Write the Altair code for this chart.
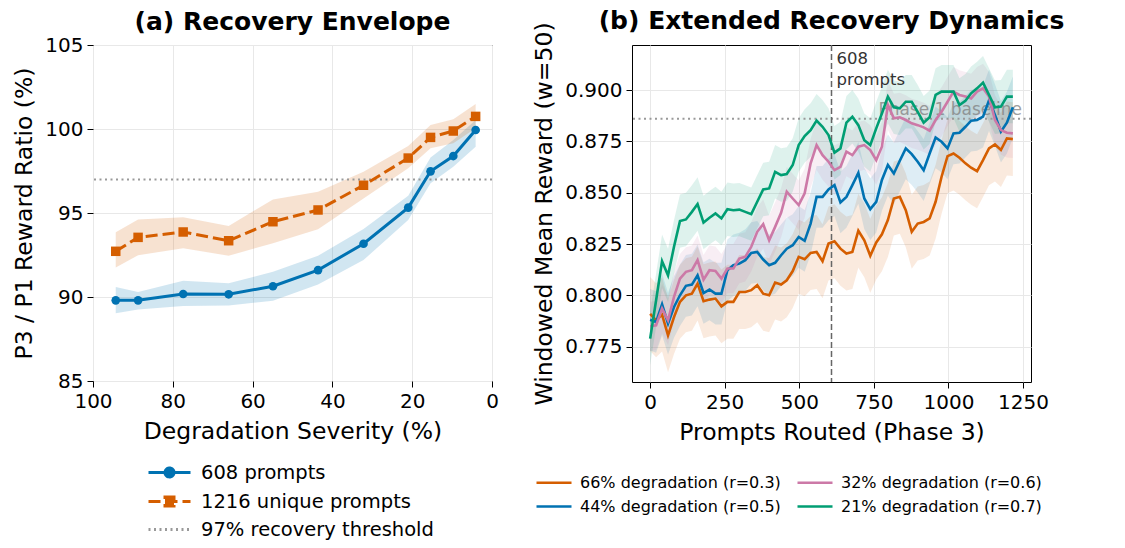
import altair as alt
import pandas as pd

FONT = "DejaVu Sans"
BLUE = "#0072B2"
ORANGE = "#D55E00"
PINK = "#CC79A7"
GREEN = "#009E73"
GRAY = "#999999"

# ---------------- Panel (a) data ----------------
severity = [94.3, 88.7, 77.4, 66.0, 54.9, 43.6, 32.2, 21.0, 15.4, 9.7, 4.1]
ratio_608 = [89.80, 89.80, 90.18, 90.16, 90.64, 91.60, 93.17, 95.32, 97.48, 98.39, 99.94]
ratio_608_lo = [89.03, 89.25, 89.46, 89.50, 89.78, 90.75, 92.20, 94.58, 96.77, 97.76, 98.95]
ratio_608_hi = [90.60, 90.30, 90.97, 90.82, 91.50, 92.46, 94.05, 96.03, 98.30, 99.35, 100.54]
ratio_1216 = [92.72, 93.55, 93.87, 93.35, 94.48, 95.18, 96.65, 98.27, 99.50, 99.88, 100.75]
ratio_1216_lo = [91.75, 92.48, 92.90, 92.46, 93.20, 94.03, 95.87, 97.66, 98.85, 99.15, 100.04]
ratio_1216_hi = [93.85, 94.62, 94.74, 94.23, 95.81, 96.27, 97.46, 98.99, 100.24, 100.58, 101.49]
threshold = [97.0]
legend_a = ["608 prompts", "1216 unique prompts", "97% recovery threshold"]

# ---------------- Panel (b) data ----------------
prompts = [0, 20, 40, 60, 80, 100, 120, 140, 159, 179, 199, 219, 239, 259, 279, 299,
           319, 339, 359, 379, 399, 419, 439, 458, 478, 498, 518, 538, 558, 578, 598,
           618, 638, 658, 678, 698, 718, 738, 758, 777, 797, 817, 837, 857, 877, 897,
           917, 937, 957, 977, 997, 1017, 1037, 1057, 1076, 1096, 1116, 1136, 1156,
           1176, 1196, 1216]
reward_66 = [0.7910, 0.7879, 0.7907, 0.7806, 0.7895, 0.7969, 0.8001, 0.8009, 0.8058, 0.7972,
             0.7980, 0.7985, 0.7947, 0.7969, 0.7969, 0.8017, 0.8017, 0.8026, 0.8050, 0.8009,
             0.8001, 0.8063, 0.8053, 0.8074, 0.8119, 0.8188, 0.8176, 0.8207, 0.8212, 0.8167,
             0.8253, 0.8264, 0.8228, 0.8204, 0.8212, 0.8315, 0.8269, 0.8193, 0.8258, 0.8298,
             0.8367, 0.8472, 0.8480, 0.8415, 0.8310, 0.8350, 0.8358, 0.8375, 0.8456, 0.8578,
             0.8678, 0.8691, 0.8670, 0.8643, 0.8622, 0.8605, 0.8659, 0.8716, 0.8735, 0.8708,
             0.8764, 0.8761]
reward_44 = [0.7882, 0.7871, 0.7957, 0.7863, 0.7944, 0.8001, 0.8047, 0.8053, 0.8098, 0.8012,
             0.8029, 0.8009, 0.8009, 0.8123, 0.8147, 0.8155, 0.8172, 0.8207, 0.8212, 0.8175,
             0.8147, 0.8159, 0.8196, 0.8228, 0.8245, 0.8285, 0.8266, 0.8350, 0.8480, 0.8480,
             0.8516, 0.8537, 0.8453, 0.8480, 0.8537, 0.8597, 0.8472, 0.8420, 0.8456, 0.8562,
             0.8635, 0.8594, 0.8656, 0.8716, 0.8688, 0.8651, 0.8610, 0.8691, 0.8769, 0.8748,
             0.8716, 0.8789, 0.8792, 0.8821, 0.8851, 0.8854, 0.8870, 0.8950, 0.8878, 0.8797,
             0.8841, 0.8916]
reward_32 = [0.7850, 0.7855, 0.7936, 0.7879, 0.7993, 0.8082, 0.8115, 0.8123, 0.8172, 0.8077,
             0.8123, 0.8119, 0.8082, 0.8131, 0.8131, 0.8180, 0.8188, 0.8237, 0.8310, 0.8347,
             0.8269, 0.8334, 0.8402, 0.8505, 0.8472, 0.8440, 0.8497, 0.8643, 0.8732, 0.8683,
             0.8651, 0.8610, 0.8626, 0.8700, 0.8683, 0.8724, 0.8732, 0.8708, 0.8659, 0.8724,
             0.8927, 0.8862, 0.8867, 0.8854, 0.8838, 0.8829, 0.8818, 0.8802, 0.8854, 0.8894,
             0.8943, 0.8992, 0.8976, 0.8968, 0.8959, 0.8992, 0.9008, 0.8968, 0.8854, 0.8805,
             0.8792, 0.8789]
reward_21 = [0.7790, 0.7977, 0.8167, 0.8098, 0.8237, 0.8362, 0.8370, 0.8407, 0.8445, 0.8355,
             0.8378, 0.8399, 0.8375, 0.8420, 0.8415, 0.8418, 0.8407, 0.8396, 0.8456, 0.8516,
             0.8521, 0.8602, 0.8586, 0.8591, 0.8635, 0.8732, 0.8776, 0.8805, 0.8851, 0.8821,
             0.8781, 0.8695, 0.8716, 0.8841, 0.8870, 0.8829, 0.8756, 0.8732, 0.8813, 0.8886,
             0.8968, 0.8916, 0.8911, 0.8943, 0.8943, 0.8894, 0.8841, 0.8867, 0.8976, 0.8992,
             0.8992, 0.8992, 0.8927, 0.8948, 0.8984, 0.9008, 0.9036, 0.8976, 0.8916, 0.8919,
             0.8968, 0.8968]
# half-width of the shaded band read per series
band_half = [0.018, 0.015, 0.012, 0.013]
series_names = ["66% degradation (r=0.3)", "44% degradation (r=0.5)",
                "32% degradation (r=0.6)", "21% degradation (r=0.7)"]
series_colors = [ORANGE, BLUE, PINK, GREEN]
phase1_baseline = [0.886]
marker_608 = [608]

# ---------------- Panel (a) chart ----------------
df_a = pd.DataFrame({
    "severity": severity,
    "r608": ratio_608, "r608_lo": ratio_608_lo, "r608_hi": ratio_608_hi,
    "r1216": ratio_1216, "r1216_lo": ratio_1216_lo, "r1216_hi": ratio_1216_hi,
})

YT_A = "P3 / P1 Reward Ratio (%)"
XT_A = "Degradation Severity (%)"
xsc_a = alt.Scale(domain=[0, 100], reverse=True, nice=False, zero=False)
xax_a = alt.Axis(title=XT_A, values=[0, 20, 40, 60, 80, 100], format="d")
ysc_a = alt.Scale(domain=[85, 105], nice=False, zero=False)
yax_a = alt.Axis(title=YT_A, values=[85, 90, 95, 100, 105], format="d")


def xa(field):
    return alt.X(field, scale=xsc_a, axis=xax_a, title=XT_A)


def ya(field):
    return alt.Y(field, scale=ysc_a, axis=yax_a, title=YT_A)


base_a = alt.Chart(df_a)
band608 = base_a.mark_area(color=BLUE, opacity=0.18).encode(
    x=xa("severity:Q"), y=ya("r608_lo:Q"), y2="r608_hi:Q")
band1216 = base_a.mark_area(color=ORANGE, opacity=0.18).encode(
    x=xa("severity:Q"), y=ya("r1216_lo:Q"), y2="r1216_hi:Q")
thr = alt.Chart(pd.DataFrame({"t": threshold})).mark_rule(
    color=GRAY, strokeWidth=2, strokeDash=[2, 3.5]).encode(y=ya("t:Q"))
line608 = base_a.mark_line(color=BLUE, strokeWidth=3).encode(x=xa("severity:Q"), y=ya("r608:Q"))
pts608 = base_a.mark_point(color=BLUE, filled=True, shape="circle", size=75, opacity=1).encode(
    x=xa("severity:Q"), y=ya("r608:Q"))
line1216 = base_a.mark_line(color=ORANGE, strokeWidth=3, strokeDash=[12, 5]).encode(
    x=xa("severity:Q"), y=ya("r1216:Q"))
pts1216 = base_a.mark_point(color=ORANGE, filled=True, shape="square", size=90, opacity=1).encode(
    x=xa("severity:Q"), y=ya("r1216:Q"))

leg_a = alt.Legend(title=None, orient="none", legendX=55, legendY=416, symbolSize=400,
                   symbolStrokeWidth=3, labelFontSize=19.5, labelFont=FONT, labelColor="black",
                   labelOffset=30, rowPadding=6, padding=0, symbolOpacity=1, labelLimit=500)
shapes_a = [
    "M-1.1,0L3.1,0M0.55,0A0.45,0.45 0 1,0 1.45,0A0.45,0.45 0 1,0 0.55,0Z",
    "M-1.1,0L3.1,0M0.55,-0.45L1.45,-0.45L1.45,0.45L0.55,0.45Z",
    "M-1.1,0L3.1,0",
]
leg_layer_a = alt.Chart(pd.DataFrame({"entry": legend_a})).transform_filter("false").mark_point(
    filled=True, strokeWidth=3).encode(
    fill=alt.Fill("entry:N", scale=alt.Scale(domain=legend_a, range=[BLUE, ORANGE, GRAY]), legend=leg_a),
    stroke=alt.Stroke("entry:N", scale=alt.Scale(domain=legend_a, range=[BLUE, ORANGE, GRAY]), legend=leg_a),
    shape=alt.Shape("entry:N", scale=alt.Scale(domain=legend_a, range=shapes_a), legend=leg_a),
    strokeDash=alt.StrokeDash("entry:N", scale=alt.Scale(domain=legend_a, range=[[1, 0], [12, 5], [2, 3.5]]),
                              legend=leg_a),
)

left = alt.layer(band608, band1216, thr, line608, pts608, line1216, pts1216, leg_layer_a).properties(
    width=399, height=336, title=alt.Title("(a) Recovery Envelope", offset=0))

# ---------------- Panel (b) chart ----------------
rows = []
for name, vals, hw in zip(series_names, [reward_66, reward_44, reward_32, reward_21], band_half):
    for p, v in zip(prompts, vals):
        rows.append({"prompts": p, "series": name, "reward": v, "lo": v - hw, "hi": v + hw})
df_b = pd.DataFrame(rows)

YT_B = "Windowed Mean Reward (w=50)"
XT_B = "Prompts Routed (Phase 3)"
xsc_b = alt.Scale(domain=[-60.8, 1276.8], nice=False, zero=False)
xax_b = alt.Axis(title=XT_B, values=[0, 250, 500, 750, 1000, 1250], format="d")
ysc_b = alt.Scale(domain=[0.7579, 0.9219], nice=False, zero=False)
yax_b = alt.Axis(title=YT_B, values=[0.775, 0.8, 0.825, 0.85, 0.875, 0.9], format=".3f")


def xb(field):
    return alt.X(field, scale=xsc_b, axis=xax_b, title=XT_B)


def yb(field):
    return alt.Y(field, scale=ysc_b, axis=yax_b, title=YT_B)


base_b = alt.Chart(df_b)
# band fill scale listed in reverse order so it stays separate from the line legend
bands_b = base_b.mark_area(opacity=0.13).encode(
    x=xb("prompts:Q"), y=yb("lo:Q"), y2="hi:Q",
    fill=alt.Fill("series:N", scale=alt.Scale(domain=series_names[::-1], range=series_colors[::-1]),
                  legend=None))
vline = alt.Chart(pd.DataFrame({"p": marker_608})).mark_rule(
    color="#666666", strokeWidth=1.5, strokeDash=[6, 3]).encode(x=xb("p:Q"))
hline = alt.Chart(pd.DataFrame({"b": phase1_baseline})).mark_rule(
    color=GRAY, strokeWidth=2, strokeDash=[2, 3.5]).encode(y=yb("b:Q"))
base_txt = alt.Chart(pd.DataFrame({"x": [1250], "y": phase1_baseline, "t": ["Phase 1 baseline"]})).mark_text(
    align="right", baseline="alphabetic", dx=-1, dy=-4, fontSize=17, font=FONT,
    color="#808080", opacity=0.75).encode(x=xb("x:Q"), y=yb("y:Q"), text="t:N")
leg_b = alt.Legend(title=None, orient="none", legendX=-97, legendY=428, columns=2,
                   symbolType="M-1,0L3.375,0", symbolSize=256, symbolStrokeWidth=2.6,
                   labelFontSize=16, labelFont=FONT, labelColor="black", labelOffset=26,
                   rowPadding=6, columnPadding=11, padding=0, symbolOpacity=1, labelLimit=500)
lines_b = base_b.mark_line(strokeWidth=2.6).encode(
    x=xb("prompts:Q"), y=yb("reward:Q"),
    color=alt.Color("series:N", scale=alt.Scale(domain=series_names, range=series_colors), legend=leg_b))
txt608 = alt.Chart(pd.DataFrame({"x": marker_608, "y": [0.9219], "t": ["608\nprompts"]})).mark_text(
    align="left", baseline="top", dx=5, dy=6, fontSize=16.5, font=FONT, color="#333333",
    lineBreak="\n", lineHeight=21).encode(x=xb("x:Q"), y=yb("y:Q"), text="t:N")

right = alt.layer(bands_b, hline, vline, base_txt, lines_b, txt608).properties(
    width=399, height=337, title=alt.Title("(b) Extended Recovery Dynamics", offset=-12))

indep = dict(color="independent", fill="independent", stroke="independent",
             shape="independent", strokeDash="independent")
chart = alt.hconcat(left, right, spacing=140, bounds="flush").resolve_scale(**indep).resolve_legend(**indep).properties(
    padding={"left": 12, "top": 8, "right": 2, "bottom": 2}
).configure(font=FONT).configure_view(
    stroke="black", strokeWidth=1
).configure_axis(
    labelFont=FONT, titleFont=FONT, labelFontSize=20, titleFontSize=23.5,
    titleFontWeight="normal", labelColor="black", titleColor="black",
    tickColor="black", tickSize=6, tickWidth=1, domain=False,
    gridColor="#e8e8e8", gridWidth=1, labelPadding=4, titlePadding=8,
    labelFlush=False, labelOverlap=False
).configure_title(
    font=FONT, fontSize=25, fontWeight="bold", color="black", anchor="middle"
)

chart.save("out.html", embed_options={"renderer": "svg", "actions": False})
